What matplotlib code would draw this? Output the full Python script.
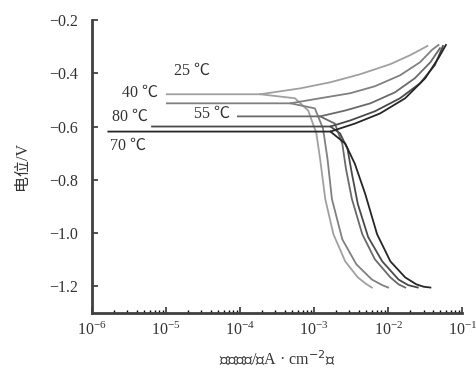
import matplotlib
matplotlib.use("Agg")
import matplotlib.pyplot as plt
import numpy as np
from matplotlib.ticker import LogLocator, FixedLocator

plt.rcParams['font.family'] = ['Liberation Serif', 'Noto Sans CJK SC', 'DejaVu Sans']
plt.rcParams['axes.unicode_minus'] = True

temps = ["25 ℃", "40 ℃", "55 ℃", "80 ℃", "70 ℃"]
colors = ["#a0a0a0", "#808080", "#6a6a6a", "#4a4a4a", "#262626"]

# log10 of current density (A/cm2) and potential (V)
# horizontal part + anodic branch
ano_log = [
    [-4.99, -3.73, -3.19, -2.78, -2.38, -1.97, -1.70, -1.47],
    [-4.99, -3.32, -2.92, -2.51, -2.18, -1.84, -1.57, -1.41, -1.32],
    [-4.03, -2.92, -2.58, -2.24, -1.91, -1.64, -1.43, -1.30],
    [-5.19, -2.78, -2.51, -2.18, -1.84, -1.57, -1.37, -1.26],
    [-5.78, -2.78, -2.45, -2.11, -1.77, -1.50, -1.32, -1.22],
]
ano_E = [
    [-0.479, -0.479, -0.457, -0.434, -0.404, -0.366, -0.332, -0.298],
    [-0.513, -0.513, -0.494, -0.475, -0.449, -0.408, -0.359, -0.313, -0.294],
    [-0.562, -0.562, -0.540, -0.513, -0.472, -0.419, -0.359, -0.306],
    [-0.600, -0.600, -0.577, -0.543, -0.494, -0.438, -0.370, -0.298],
    [-0.619, -0.619, -0.589, -0.551, -0.494, -0.419, -0.343, -0.294],
]
# cathodic branch
cat_log = [
    [-3.73, -3.26, -3.08, -2.97, -2.92, -2.85, -2.74, -2.58, -2.41, -2.30, -2.22],
    [-3.32, -2.99, -2.88, -2.82, -2.76, -2.62, -2.43, -2.22, -2.08, -2.00],
    [-2.92, -2.72, -2.62, -2.57, -2.49, -2.35, -2.18, -1.97, -1.86, -1.77],
    [-2.78, -2.65, -2.55, -2.49, -2.41, -2.27, -2.08, -1.86, -1.73, -1.60],
    [-2.78, -2.58, -2.45, -2.31, -2.15, -1.97, -1.77, -1.62, -1.52, -1.43],
]
cat_E = [
    [-0.479, -0.494, -0.540, -0.626, -0.721, -0.872, -1.004, -1.106, -1.166, -1.190, -1.204],
    [-0.513, -0.532, -0.608, -0.721, -0.872, -1.023, -1.117, -1.174, -1.195, -1.204],
    [-0.562, -0.589, -0.664, -0.759, -0.872, -1.004, -1.098, -1.166, -1.192, -1.204],
    [-0.600, -0.626, -0.683, -0.777, -0.891, -1.015, -1.106, -1.174, -1.195, -1.204],
    [-0.619, -0.664, -0.740, -0.853, -1.004, -1.106, -1.166, -1.192, -1.201, -1.204],
]

label_log = [-4.65, -5.35, -4.38, -5.49, -5.51]
label_E = [-0.392, -0.472, -0.551, -0.562, -0.672]

fig = plt.figure(figsize=(4.77, 3.75), dpi=100)
ax = fig.add_axes([0.193, 0.165, 0.776, 0.782])

for i in range(len(temps)):
    ax.plot(10 ** np.array(ano_log[i]), ano_E[i], color=colors[i], lw=1.3)
    ax.plot(10 ** np.array(cat_log[i]), cat_E[i], color=colors[i], lw=1.3)
    ax.text(10 ** label_log[i], label_E[i], temps[i], fontsize=11.5,
            ha='center', va='center', color='#333333')

ax.set_xscale('log')
ax.set_xlim(1e-6, 1e-1)
ax.set_ylim(-1.3, -0.2)
ax.xaxis.set_major_locator(LogLocator(base=10, numticks=10))
ax.xaxis.set_minor_locator(LogLocator(base=10, subs=np.arange(2, 10), numticks=20))
ax.yaxis.set_major_locator(FixedLocator([-1.2, -1.0, -0.8, -0.6, -0.4, -0.2]))
ax.set_yticklabels(["−1.2", "−1.0", "−0.8", "−0.6", "−0.4", "−0.2"])

for s in ['top', 'right']:
    ax.spines[s].set_visible(False)
for s in ['left', 'bottom']:
    ax.spines[s].set_linewidth(2)
    ax.spines[s].set_color('#404040')

ax.tick_params(axis='both', which='major', direction='in', length=4, width=1.2,
               labelsize=11.5, colors='#333333')
ax.tick_params(axis='x', which='minor', direction='in', length=2.5, width=1)
ax.tick_params(axis='x', which='major', pad=6)
ax.tick_params(axis='y', which='major', pad=10)

ax.set_xlabel("电流密度/（A · cm$^{-2}$）", fontsize=11.5, color='#333333', labelpad=8)
ax.set_ylabel("电位/V", fontsize=11.5, color='#333333', labelpad=14)

fig.savefig("out.png", dpi=100)
